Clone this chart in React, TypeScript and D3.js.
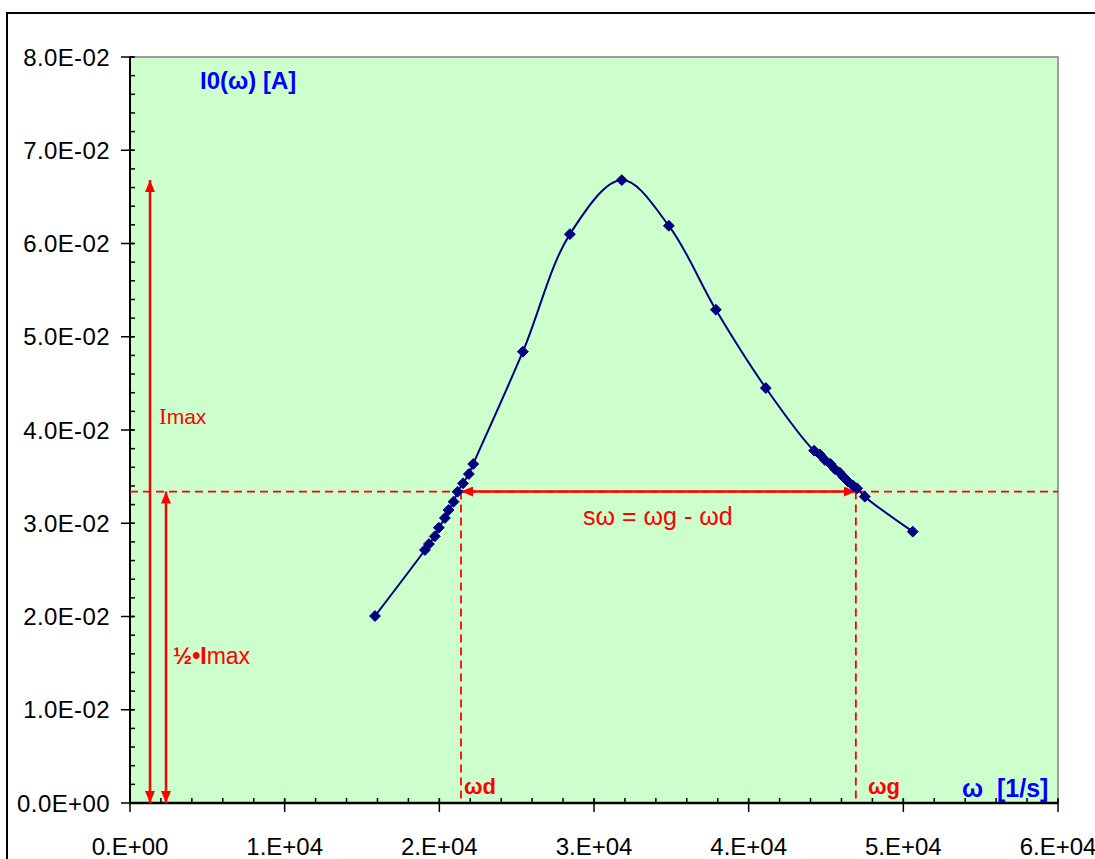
import React, { useEffect, useRef } from "react";
import * as d3 from "d3";

// measured omega [1/s] and current I0 [A]
const omega = [
  15840, 19070, 19330, 19710, 19970, 20360, 20600, 20920, 21180, 21530, 21910, 22190,
  25400, 28440, 31800, 34840, 37880, 41110,
  44230, 44600, 44930, 45290, 45570, 45890, 46150, 46430, 46750, 47010, 47510, 50610,
];
const current = [
  0.02005, 0.02713, 0.02777, 0.0286, 0.02952, 0.03056, 0.03142, 0.03231, 0.03338, 0.03428, 0.03528, 0.03635,
  0.0484, 0.061, 0.0668, 0.0619, 0.0529, 0.0445,
  0.03778, 0.03739, 0.03678, 0.03635, 0.03582, 0.03542, 0.03493, 0.03446, 0.03403, 0.03375, 0.03285, 0.0291,
];
const xTicks = [0, 10000, 20000, 30000, 40000, 50000, 60000];
const yTicks = [0, 0.01, 0.02, 0.03, 0.04, 0.05, 0.06, 0.07, 0.08];
const iMax = 0.0668;
const omegaD = 21400;
const omegaG = 46930;

const fmtY = (v: number) => {
  const [m, e] = v.toExponential(1).split("e");
  const n = Math.abs(+e);
  return `${m}E${+e < 0 ? "-" : "+"}${String(n).padStart(2, "0")}`;
};
const fmtX = (v: number) => {
  const [m, e] = v.toExponential(0).split("e");
  const n = Math.abs(+e);
  return `${m}.E${+e < 0 ? "-" : "+"}${String(n).padStart(2, "0")}`;
};

export default function App() {
  const svgRef = useRef<SVGSVGElement>(null);

  useEffect(() => {
    if (!svgRef.current) return;
    const svg = d3.select(svgRef.current);
    svg.selectAll("*").remove();

    const left = 130, right = 1058, top = 57, bottom = 803;
    const x = d3.scaleLinear().domain([0, 60000]).range([left, right]);
    const y = d3.scaleLinear().domain([0, 0.08]).range([bottom, top]);
    const red = "#FF0000";
    const font = "Liberation Sans, Arial, sans-serif";

    const defs = svg.append("defs");
    defs.append("marker")
      .attr("id", "arr")
      .attr("viewBox", "0 0 12 10")
      .attr("refX", 12).attr("refY", 5)
      .attr("markerWidth", 12).attr("markerHeight", 10)
      .attr("markerUnits", "userSpaceOnUse")
      .attr("orient", "auto-start-reverse")
      .append("path").attr("d", "M0,0 L12,5 L0,10 Z").attr("fill", red);

    // outer frame
    svg.append("rect").attr("x", 7).attr("y", 13).attr("width", 1200).attr("height", 1000)
      .attr("fill", "white").attr("stroke", "black").attr("stroke-width", 2);

    // plot area
    svg.append("rect").attr("x", left).attr("y", top).attr("width", right - left).attr("height", bottom - top)
      .attr("fill", "#CCFFCC").attr("stroke", "#808080").attr("stroke-width", 1.5);

    // minor ticks (inside)
    const yMinor = d3.range(0, 0.08001, 0.002);
    svg.append("g").selectAll("line").data(yMinor).enter().append("line")
      .attr("x1", left).attr("x2", left + 5)
      .attr("y1", (d) => y(d)).attr("y2", (d) => y(d))
      .attr("stroke", "black").attr("stroke-width", 1.5);
    const xMinor = d3.range(0, 60001, 2000);
    svg.append("g").selectAll("line").data(xMinor).enter().append("line")
      .attr("x1", (d) => x(d)).attr("x2", (d) => x(d))
      .attr("y1", bottom).attr("y2", bottom - 5)
      .attr("stroke", "black").attr("stroke-width", 1.5);

    // axes lines
    svg.append("line").attr("x1", left).attr("x2", left).attr("y1", top).attr("y2", bottom)
      .attr("stroke", "black").attr("stroke-width", 2);
    svg.append("line").attr("x1", left).attr("x2", right).attr("y1", bottom).attr("y2", bottom)
      .attr("stroke", "black").attr("stroke-width", 2.5);

    // major ticks + labels
    const yg = svg.append("g").selectAll("g").data(yTicks).enter().append("g");
    yg.append("line").attr("x1", left - 9).attr("x2", left + 4)
      .attr("y1", (d) => y(d)).attr("y2", (d) => y(d)).attr("stroke", "black").attr("stroke-width", 1.5);
    yg.append("text").attr("x", 110).attr("y", (d) => y(d) + 8.5)
      .attr("text-anchor", "end").attr("font-family", font).attr("font-size", 24)
      .attr("letter-spacing", 0.4)
      .text((d) => fmtY(d));

    const xg = svg.append("g").selectAll("g").data(xTicks).enter().append("g");
    xg.append("line").attr("x1", (d) => x(d)).attr("x2", (d) => x(d))
      .attr("y1", bottom - 4).attr("y2", bottom + 9).attr("stroke", "black").attr("stroke-width", 1.5);
    xg.append("text").attr("x", (d) => x(d)).attr("y", 855)
      .attr("text-anchor", "middle").attr("font-family", font).attr("font-size", 24)
      .text((d) => fmtX(d));

    // half-max dashed guides
    const yh = y(iMax / 2);
    svg.append("line").attr("x1", left).attr("x2", right).attr("y1", yh).attr("y2", yh)
      .attr("stroke", red).attr("stroke-width", 1.8).attr("stroke-dasharray", "8,5");
    [omegaD, omegaG].forEach((w) => {
      svg.append("line").attr("x1", x(w)).attr("x2", x(w)).attr("y1", yh).attr("y2", bottom)
        .attr("stroke", red).attr("stroke-width", 1.8).attr("stroke-dasharray", "8,5");
    });

    // arrows
    svg.append("line").attr("x1", x(omegaD)).attr("x2", x(omegaG)).attr("y1", yh).attr("y2", yh)
      .attr("stroke", red).attr("stroke-width", 2.5)
      .attr("marker-start", "url(#arr)").attr("marker-end", "url(#arr)");
    svg.append("line").attr("x1", 150).attr("x2", 150).attr("y1", y(iMax)).attr("y2", bottom)
      .attr("stroke", red).attr("stroke-width", 2.5)
      .attr("marker-start", "url(#arr)").attr("marker-end", "url(#arr)");
    svg.append("line").attr("x1", 166).attr("x2", 166).attr("y1", yh).attr("y2", bottom)
      .attr("stroke", red).attr("stroke-width", 2.5)
      .attr("marker-start", "url(#arr)").attr("marker-end", "url(#arr)");

    // curve
    const pts = omega.map((w, i) => [w, current[i]] as [number, number]);
    const line = d3.line<[number, number]>()
      .x((d) => x(d[0])).y((d) => y(d[1]))
      .curve(d3.curveCatmullRom.alpha(0.5));
    svg.append("path").datum(pts).attr("d", line).attr("fill", "none")
      .attr("stroke", "#000080").attr("stroke-width", 2);
    svg.append("g").selectAll("path").data(pts).enter().append("path")
      .attr("transform", (d) => `translate(${x(d[0])},${y(d[1])})`)
      .attr("d", d3.symbol(d3.symbolDiamond2, 75)())
      .attr("fill", "#000080").attr("stroke", "#000080").attr("stroke-width", 1);

    // labels
    const txt = (tx: number, ty: number, s: string, color: string, size: number, weight = "normal") =>
      svg.append("text").attr("x", tx).attr("y", ty).attr("fill", color)
        .attr("font-family", font).attr("font-size", size).attr("font-weight", weight).text(s);

    txt(200, 89, "I0(ω) [A]", "#0000FF", 24, "bold");
    txt(962, 797, "ω  [1/s]", "#0000FF", 25, "bold").attr("xml:space", "preserve");
    txt(464, 794, "ωd", red, 22, "bold");
    txt(868, 794, "ωg", red, 22, "bold");
    txt(583, 525, "sω = ωg - ωd", red, 25);

    const imax = svg.append("text").attr("x", 159).attr("y", 424).attr("fill", red)
      .attr("font-family", font).attr("font-size", 21);
    imax.append("tspan").attr("font-family", "Liberation Serif, serif").attr("font-size", 23).text("I");
    imax.append("tspan").text("max");

    const half = svg.append("text").attr("x", 173).attr("y", 664).attr("fill", red)
      .attr("font-family", font).attr("font-size", 23);
    half.append("tspan").attr("font-weight", "bold").text("½•");
    half.append("tspan").attr("font-weight", "bold").text("I");
    half.append("tspan").text("max");
  }, []);

  return (
    <svg
      ref={svgRef}
      width={1095}
      height={859}
      style={{ position: "absolute", left: 0, top: 0, background: "white" }}
    />
  );
}
